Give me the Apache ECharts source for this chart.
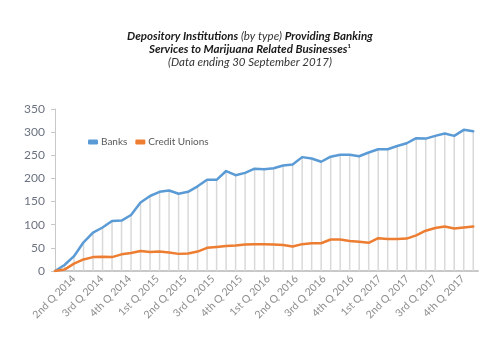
<!DOCTYPE html>
<html>
<head>
<meta charset="utf-8">
<script src="https://cdn.jsdelivr.net/npm/echarts@6/dist/echarts.min.js"></script>
<style>html,body{margin:0;padding:0;background:#fff}#c{width:500px;height:351px}</style>
</head>
<body>
<div id="c"></div>
<script>
var quarterLabels = ['2nd Q 2014','3rd Q 2014','4th Q 2014','1st Q 2015','2nd Q 2015','3rd Q 2015','4th Q 2015','1st Q 2016','2nd Q 2016','3rd Q 2016','4th Q 2016','1st Q 2017','2nd Q 2017','3rd Q 2017','4th Q 2017'];
var banks = [0,13,32,62,83,94,108,109,121,148,162,171,174,167,171,183,197,197,216,207,212,221,220,222,228,230,246,243,236,247,251,251,248,256,263,263,270,276,287,286,292,297,292,305,302];
var creditUnions = [0,3,16,25,30,31,30,36,39,43,41,42,40,37,38,42,50,52,54,55,57,58,58,57,56,53,58,60,60,68,68,65,63,61,71,69,69,70,77,87,93,96,92,94,96];
var yTicks = [0,50,100,150,200,250,300,350];

function pairs(arr){ return arr.map(function(v,i){ return [i, v]; }); }

var chart = echarts.init(document.getElementById('c'), null, {renderer:'canvas'});
var FONT = 'Lato, "Noto Sans", sans-serif';
chart.setOption({
  animation: false,
  backgroundColor: '#fff',
  title: {
    left: 'center',
    top: 25,
    text: '{b|Depository Institutions} {l|(by type)} {b|Providing Banking}\n{b|Services to Marijuana Related Businesses}{s|1}\n{l|(Data ending 30 September 2017)}',
    textStyle: {
      fontFamily: FONT, fontSize: 11.5, lineHeight: 13, color: '#1a1a1a',
      rich: {
        b: {fontFamily: FONT, fontSize: 11.5, fontWeight: 'bold', fontStyle: 'italic', color: '#1a1a1a', lineHeight: 13},
        l: {fontFamily: FONT, fontSize: 11.5, fontWeight: 'normal', fontStyle: 'italic', color: '#333', lineHeight: 13},
        s: {fontFamily: FONT, fontSize: 6, fontWeight: 'bold', color: '#1a1a1a', verticalAlign: 'top', lineHeight: 13}
      }
    }
  },
  legend: {
    left: 83, top: 132,
    data: ['Banks','Credit Unions'],
    icon: 'roundRect',
    itemWidth: 10, itemHeight: 5, itemGap: 8,
    textStyle: {fontFamily: FONT, fontSize: 10, color: '#595959', padding: [0,0,0,-2]}
  },
  grid: [
    {left: 55, right: 22, top: 109, bottom: 80, containLabel: false},
    {left: 74, right: 37, top: 109, bottom: 80, containLabel: false}
  ],
  xAxis: [
    {type: 'value', gridIndex: 0, min: 0, max: 44.5,
     axisLine: {show: true, lineStyle: {color: '#c8c8c8', width: 2}},
     axisTick: {show: false}, axisLabel: {show: false}, splitLine: {show: false}},
    {type: 'category', gridIndex: 1, data: quarterLabels, boundaryGap: false,
     axisLine: {show: false}, axisTick: {show: false}, splitLine: {show: false},
     axisLabel: {interval: 0, rotate: 45, margin: 6, fontFamily: FONT, fontSize: 10.5, color: '#8c8c8c'}}
  ],
  yAxis: [
    {type: 'value', gridIndex: 0, min: 0, max: 350, interval: 50,
     axisLine: {show: true, lineStyle: {color: '#c8c8c8', width: 1}},
     axisTick: {show: true, length: 4, lineStyle: {color: '#c8c8c8'}},
     splitLine: {show: false},
     axisLabel: {margin: 10, fontFamily: FONT, fontSize: 12, color: '#6b7280',
       formatter: function(v){ return yTicks.indexOf(v) >= 0 ? String(v) : ''; }}},
    {type: 'value', gridIndex: 1, min: 0, max: 350, show: false}
  ],
  series: [
    {name: 'drop', type: 'bar', xAxisIndex: 0, yAxisIndex: 0, data: pairs(banks),
     barWidth: 1.5, itemStyle: {color: '#d9d9d9'}, silent: true, z: 1},
    {name: 'Banks', type: 'line', xAxisIndex: 0, yAxisIndex: 0, data: pairs(banks),
     showSymbol: false, symbol: 'none', lineStyle: {color: '#5b9bd5', width: 2.5, join: 'round', cap: 'round'},
     itemStyle: {color: '#5b9bd5'}, z: 3},
    {name: 'Credit Unions', type: 'line', xAxisIndex: 0, yAxisIndex: 0, data: pairs(creditUnions),
     showSymbol: false, symbol: 'none', lineStyle: {color: '#ed7d31', width: 2.5, join: 'round', cap: 'round'},
     itemStyle: {color: '#ed7d31'}, z: 3}
  ]
});
</script>
</body>
</html>
